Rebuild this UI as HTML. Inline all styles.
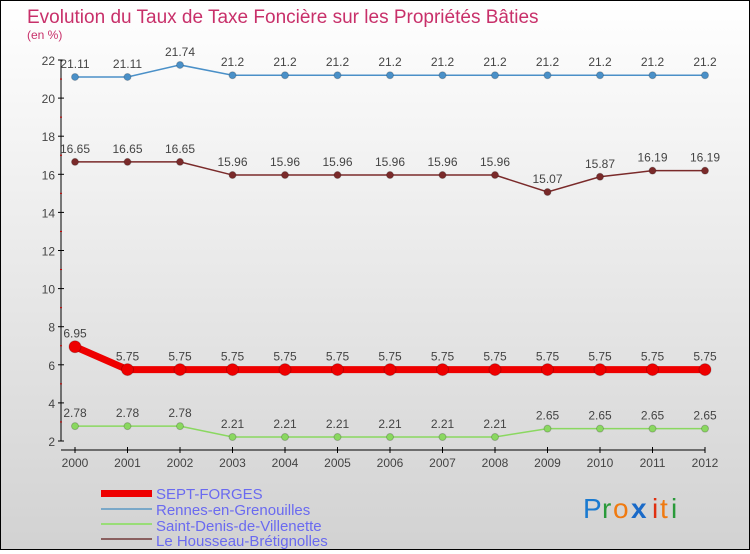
<!DOCTYPE html>
<html><head><meta charset="utf-8"><style>
body{margin:0}
#c{width:748px;height:548px;border:1px solid #000;background:linear-gradient(#fff,#d2d2d2);position:relative;font-family:"Liberation Sans",sans-serif}
</style></head><body>
<div id="c">
<svg id="s" width="748" height="548" xmlns="http://www.w3.org/2000/svg">
<text x="26" y="22" font-size="19" fill="#c8306a">Evolution du Taux de Taxe Foncière sur les Propriétés Bâties</text>
<text x="26" y="38" font-size="12" fill="#c8306a">(en %)</text>
<g id="axes"></g><g id="series"></g>
<g>
<rect x="100" y="489" width="51" height="7" fill="#e00"/>
<text x="155" y="498" font-size="15" fill="#6a6af0">SEPT-FORGES</text>
<rect x="100" y="507" width="51" height="2" fill="#7aa8c8"/>
<text x="155" y="514" font-size="15" fill="#6a6af0">Rennes-en-Grenouilles</text>
<rect x="100" y="522" width="51" height="2" fill="#99dd77"/>
<text x="155" y="530" font-size="15" fill="#6a6af0">Saint-Denis-de-Villenette</text>
<rect x="100" y="537" width="51" height="2" fill="#8a6060"/>
<text x="155" y="545" font-size="15" fill="#6a6af0">Le Housseau-Brétignolles</text>
</g>
<g font-size="28">
<text x="582" y="517" fill="#1a7ad0">P</text><text x="601" y="517" fill="#2a9a3a">r</text><text x="612" y="517" fill="#f07a10">o</text><text x="630" y="517" fill="#1a6ac8" font-weight="bold">x</text><text x="651" y="517" fill="#e03010">i</text><text x="659" y="517" fill="#f07a10">t</text><text x="670" y="517" fill="#2a9a3a">i</text>
</g>
</svg></div>
<script>
const years=[2000,2001,2002,2003,2004,2005,2006,2007,2008,2009,2010,2011,2012];
const yTicks=[2,4,6,8,10,12,14,16,18,20,22];
const sept=[6.95,5.75,5.75,5.75,5.75,5.75,5.75,5.75,5.75,5.75,5.75,5.75,5.75];
const rennes=[21.11,21.11,21.74,21.2,21.2,21.2,21.2,21.2,21.2,21.2,21.2,21.2,21.2];
const stdenis=[2.78,2.78,2.78,2.21,2.21,2.21,2.21,2.21,2.21,2.65,2.65,2.65,2.65];
const housseau=[16.65,16.65,16.65,15.96,15.96,15.96,15.96,15.96,15.96,15.07,15.87,16.19,16.19];
const NS="http://www.w3.org/2000/svg";
const xs=i=>74+i*52.5;
const ys=v=>440-(v-2)*19.05;
function mk(t,a,p){const e=document.createElementNS(NS,t);for(const k in a)e.setAttribute(k,a[k]);p.appendChild(e);return e;}
const ax=document.getElementById('axes'),sr=document.getElementById('series');
const yl=mk('line',{x1:60,x2:60,y1:ys(22),y2:ys(2),stroke:'#000'},ax);


const xl=mk('line',{x1:60,x2:xs(12),y1:449,y2:449,stroke:'#000'},ax);


yTicks.forEach(v=>{
 mk('line',{x1:57,x2:63,y1:ys(v),y2:ys(v),stroke:'#000'},ax);
 if(v<22) mk('line',{x1:59,x2:61,y1:ys(v+1),y2:ys(v+1),stroke:'#c00'},ax);
 const t=mk('text',{x:54,y:ys(v)+5,'text-anchor':'end','font-size':12,fill:'#444'},ax);t.textContent=v;
 
 
});
years.forEach((y,i)=>{
 mk('line',{x1:xs(i),x2:xs(i),y1:446,y2:452,stroke:'#000'},ax);
 const t=mk('text',{x:xs(i),y:466,'text-anchor':'middle','font-size':12,fill:'#444'},ax);t.textContent=y;
 
 
});
function series(d,color,lw,r,name){
 const g=mk('g',{},sr);
 
 
 mk('polyline',{points:d.map((v,i)=>xs(i)+','+ys(v)).join(' '),fill:'none',stroke:color,'stroke-width':lw},g);
 d.forEach((v,i)=>{
  const c=mk('circle',{cx:xs(i),cy:ys(v),r:r,fill:color,stroke:'#0003'},g);
  
  
  const t=mk('text',{x:xs(i),y:ys(v)-9,'text-anchor':'middle','font-size':12,fill:'#444'},g);
  t.textContent=String(v);
  
  
 });
}
series(rennes,'#4a90c8',1.5,3.5,'rennes');
series(housseau,'#7a2a2a',1.5,3.5,'le-housseau');
series(stdenis,'#8ad860',1.5,3.5,'saint-denis');
series(sept,'#ee0000',7,6,'sept-forges');
</script>
</body></html>
